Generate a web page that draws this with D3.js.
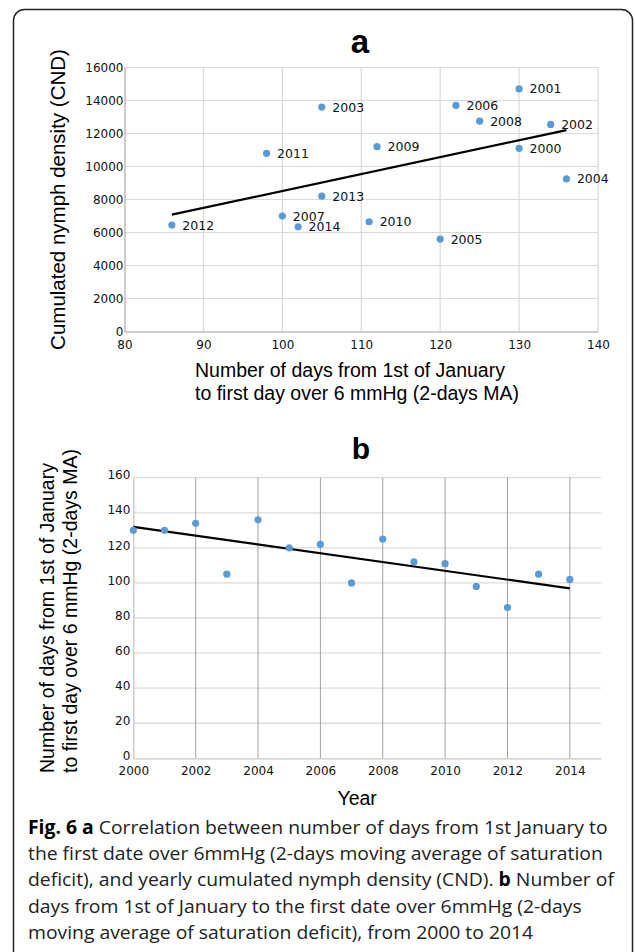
<!DOCTYPE html>
<html>
<meta charset="utf-8">
<style>
body { margin: 0; background: #fff; }
svg { display: block; }
.tick text { font-family: "DejaVu Sans", sans-serif; font-size: 12px; fill: #111; }
.ptlab { font-family: "DejaVu Sans", sans-serif; font-size: 12.5px; fill: #111; }
.atitle { font-family: "Liberation Sans", Arial, sans-serif; font-size: 19.5px; fill: #000; }
.ptitle { font-family: "Liberation Sans", Arial, sans-serif; font-weight: bold; fill: #000; }
.caption { font-family: "Open Sans", sans-serif; font-size: 19px; fill: #222; }
</style>
<body>
<svg id="fig" width="635" height="952"></svg>
</body>
<script src="https://d3js.org/d3.v7.min.js"></script>
<script>
// data
var years = [2000, 2001, 2002, 2003, 2004, 2005, 2006, 2007, 2008, 2009, 2010, 2011, 2012, 2013, 2014];
var days = [130, 130, 134, 105, 136, 120, 122, 100, 125, 112, 111, 98, 86, 105, 102];
var cnd = [11100, 14700, 12550, 13600, 9250, 5600, 13700, 7000, 12750, 11200, 6650, 10800, 6450, 8200, 6350];

var xTicksA = [80, 90, 100, 110, 120, 130, 140];
var yTicksA = [0, 2000, 4000, 6000, 8000, 10000, 12000, 14000, 16000];
var xTicksB = [2000, 2002, 2004, 2006, 2008, 2010, 2012, 2014];
var yTicksB = [0, 20, 40, 60, 80, 100, 120, 140, 160];

var titleLines = ["Number of days from 1st of January", "to first day over 6 mmHg (2-days MA)"];

var captionLines = [
  [["Fig. 6 a", true], [" Correlation between number of days from 1st January to", false]],
  [["the first date over 6mmHg (2-days moving average of saturation", false]],
  [["deficit), and yearly cumulated nymph density (CND). ", false], ["b", true], [" Number of", false]],
  [["days from 1st of January to the first date over 6mmHg (2-days", false]],
  [["moving average of saturation deficit), from 2000 to 2014", false]]
];

var svg = d3.select("#fig");

// frame
svg.append("rect")
  .attr("x", 13.5).attr("y", 9.5)
  .attr("width", 619).attr("height", 960)
  .attr("rx", 11).attr("ry", 11)
  .attr("fill", "none").attr("stroke", "#222").attr("stroke-width", 1.5);

function linreg(xs, ys) {
  var mx = d3.mean(xs), my = d3.mean(ys);
  var sxy = d3.sum(xs, function(x, i) { return (x - mx) * (ys[i] - my); });
  var sxx = d3.sum(xs, function(x) { return (x - mx) * (x - mx); });
  var b = sxy / sxx;
  return function(x) { return my + b * (x - mx); };
}

var blue = "#5b9bd5";

// ---------- panel a ----------
var xa = d3.scaleLinear().domain([80, 140]).range([124.5, 598]);
var ya = d3.scaleLinear().domain([0, 16000]).range([331.5, 67.5]);

var ga = svg.append("g");

ga.append("g").selectAll("line").data(xTicksA.slice(1)).enter().append("line")
  .attr("x1", function(d) { return xa(d); }).attr("x2", function(d) { return xa(d); })
  .attr("y1", ya(0)).attr("y2", ya(16000))
  .attr("stroke", "#d9d9d9").attr("stroke-width", 1.2);
ga.append("g").selectAll("line").data(yTicksA.slice(1)).enter().append("line")
  .attr("x1", xa(80)).attr("x2", xa(140))
  .attr("y1", function(d) { return ya(d); }).attr("y2", function(d) { return ya(d); })
  .attr("stroke", "#d9d9d9").attr("stroke-width", 1.2);

var axA_x = ga.append("g").attr("transform", "translate(0," + ya(0) + ")")
  .call(d3.axisBottom(xa).tickValues(xTicksA).tickFormat(d3.format("d")).tickSize(0).tickPadding(9));
var axA_y = ga.append("g").attr("transform", "translate(" + xa(80) + ",0)")
  .call(d3.axisLeft(ya).tickValues(yTicksA).tickFormat(d3.format("d")).tickSize(0).tickPadding(1));
[axA_x, axA_y].forEach(function(a) {
  a.select(".domain").attr("stroke", "#bdbdbd").attr("stroke-width", 1.5);
  a.selectAll("text").attr("fill", "#111");
});
axA_y.selectAll("text").attr("dy", "0.36em");

var fa = linreg(days, cnd);
var dext = d3.extent(days);
ga.append("line")
  .attr("x1", xa(dext[0])).attr("y1", ya(fa(dext[0])))
  .attr("x2", xa(dext[1])).attr("y2", ya(fa(dext[1])))
  .attr("stroke", "#000").attr("stroke-width", 2.2);

ga.append("g").selectAll("circle").data(years).enter().append("circle")
  .attr("cx", function(d, i) { return xa(days[i]); })
  .attr("cy", function(d, i) { return ya(cnd[i]); })
  .attr("r", 3.6).attr("fill", blue);

ga.append("g").selectAll("text").data(years).enter().append("text")
  .attr("class", "ptlab")
  .attr("x", function(d, i) { return xa(days[i]) + 10.5; })
  .attr("y", function(d, i) { return ya(cnd[i]); })
  .attr("dy", "0.36em")
  .text(function(d) { return d; });

ga.append("text").attr("class", "ptitle")
  .attr("x", 360).attr("y", 53).attr("text-anchor", "middle")
  .style("font-size", "33px").text("a");

ga.append("text").attr("class", "atitle")
  .attr("transform", "translate(65," + ((ya(0) + ya(16000)) / 2) + ") rotate(-90)")
  .attr("text-anchor", "middle")
  .style("font-size", "20.5px")
  .text("Cumulated nymph density (CND)");

ga.append("g").selectAll("text").data(titleLines).enter().append("text")
  .attr("class", "atitle")
  .attr("x", 195).attr("y", function(d, i) { return 377 + i * 22.5; })
  .text(function(d) { return d; });

// ---------- panel b ----------
var xb = d3.scaleLinear().domain([2000, 2015]).range([133.3, 601]);
var yb = d3.scaleLinear().domain([0, 160]).range([758.3, 477.7]);

var gb = svg.append("g");

gb.append("g").selectAll("line").data(yTicksB.slice(1)).enter().append("line")
  .attr("x1", xb(2000)).attr("x2", xb(2015))
  .attr("y1", function(d) { return yb(d); }).attr("y2", function(d) { return yb(d); })
  .attr("stroke", "#dcdcdc").attr("stroke-width", 1.3);
gb.append("g").selectAll("line").data(xTicksB.slice(1)).enter().append("line")
  .attr("x1", function(d) { return xb(d); }).attr("x2", function(d) { return xb(d); })
  .attr("y1", yb(0)).attr("y2", yb(160))
  .attr("stroke", "#a0a0a0").attr("stroke-width", 1);

var axB_x = gb.append("g").attr("transform", "translate(0," + yb(0) + ")")
  .call(d3.axisBottom(xb).tickValues(xTicksB).tickFormat(d3.format("d")).tickSize(0).tickPadding(8));
var axB_y = gb.append("g").attr("transform", "translate(" + xb(2000) + ",0)")
  .call(d3.axisLeft(yb).tickValues(yTicksB).tickSize(0).tickPadding(3));
[axB_x, axB_y].forEach(function(a) {
  a.select(".domain").attr("stroke", "#c8c8c8").attr("stroke-width", 1.3);
  a.selectAll("text").attr("fill", "#111");
});
axB_y.selectAll("text").attr("dy", "0.1em");

var fb = linreg(years, days);
var yext = d3.extent(years);
gb.append("line")
  .attr("x1", xb(yext[0])).attr("y1", yb(fb(yext[0])))
  .attr("x2", xb(yext[1])).attr("y2", yb(fb(yext[1])))
  .attr("stroke", "#000").attr("stroke-width", 2.2);

gb.append("g").selectAll("circle").data(years).enter().append("circle")
  .attr("cx", function(d) { return xb(d); })
  .attr("cy", function(d, i) { return yb(days[i]); })
  .attr("r", 3.6).attr("fill", blue);

gb.append("text").attr("class", "ptitle")
  .attr("x", 361).attr("y", 459).attr("text-anchor", "middle")
  .style("font-size", "30px").text("b");

gb.append("g").selectAll("text").data(titleLines).enter().append("text")
  .attr("class", "atitle")
  .attr("transform", function(d, i) { return "translate(" + (54 + i * 23) + ",773) rotate(-90)"; })
  .text(function(d) { return d; });

gb.append("text").attr("class", "atitle")
  .attr("x", (xb(2000) + xb(2015)) / 2 - 10).attr("y", 805)
  .attr("text-anchor", "middle").text("Year");

// ---------- caption ----------
var cap = svg.append("g").attr("class", "caption");
var capText = cap.selectAll("text").data(captionLines).enter().append("text")
  .attr("x", 0).attr("y", function(d, i) { return 834 + i * 26.2; });
capText.selectAll("tspan").data(function(d) { return d; }).enter().append("tspan")
  .style("font-weight", function(d) { return d[1] ? "bold" : null; })
  .attr("fill", function(d) { return d[1] ? "#000" : null; })
  .text(function(d) { return d[0]; });
// the caption face is narrower than Open Sans: squeeze to the measured first-line width
var w0 = capText.node().getComputedTextLength();
cap.attr("transform", "translate(28,0) scale(" + (580 / w0) + ",1)");
</script>
</html>
